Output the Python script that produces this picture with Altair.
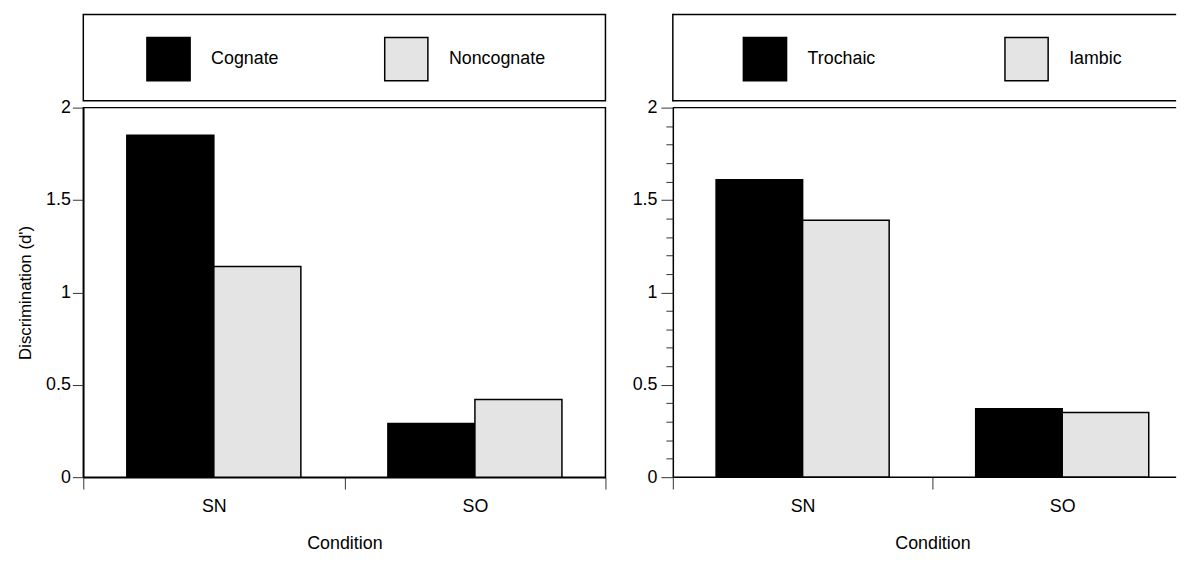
import altair as alt
import pandas as pd

# ---- data ----
conditions = ["SN", "SO"]

left_groups = ["Cognate", "Noncognate"]
left_cognate = [1.85, 0.29]
left_noncognate = [1.14, 0.42]

right_groups = ["Trochaic", "Iambic"]
right_trochaic = [1.61, 0.37]
right_iambic = [1.39, 0.35]

major_ticks = [0, 0.5, 1, 1.5, 2]
minor_ticks = [0, 0.1, 0.2, 0.3, 0.4, 0.5, 0.6, 0.7, 0.8, 0.9, 1,
               1.1, 1.2, 1.3, 1.4, 1.5, 1.6, 1.7, 1.8, 1.9, 2]

bar_colors = ["#000000", "#e4e4e4"]
FONT = "Liberation Sans"
LW = 1.5


def make_df(groups, first, second):
    rows = []
    for g, vals in zip(groups, [first, second]):
        for c, v in zip(conditions, vals):
            rows.append({"Condition": c, "Group": g, "Value": v})
    return pd.DataFrame(rows)


def bars(df, groups, x_scale, x_axis, y_axis, legend_x, col_pad):
    return alt.Chart(df).mark_bar(stroke="black", strokeWidth=LW).encode(
        x=alt.X("Condition:N", sort=conditions, scale=x_scale, axis=x_axis),
        xOffset=alt.XOffset("Group:N", sort=groups,
                            scale=alt.Scale(paddingInner=0, paddingOuter=0.5)),
        y=alt.Y("Value:Q", scale=alt.Scale(domain=[0, 2], nice=False), axis=y_axis),
        color=alt.Color("Group:N", sort=groups,
                        scale=alt.Scale(domain=groups, range=bar_colors),
                        legend=alt.Legend(orient="none", legendX=legend_x, legendY=-72,
                                          direction="horizontal", title=None,
                                          symbolType="square", symbolSize=1900,
                                          symbolStrokeColor="black", symbolStrokeWidth=LW,
                                          labelFontSize=18, labelOffset=20,
                                          columnPadding=col_pad, padding=0)),
    )


left_y_axis = alt.Axis(values=major_ticks, format="~g", tickSize=11, labelPadding=2,
                       title="Discrimination (d')", titleFontSize=17, titlePadding=11,
                       grid=False)
right_y_axis = alt.Axis(values=minor_ticks, format="~g",
                        labelExpr="datum.value % 0.5 === 0 ? datum.label : ''",
                        tickSize={"condition": {"test": "datum.value % 0.5 === 0", "value": 12},
                                  "value": 7},
                        labelPadding=4, title=None, grid=False, labelOverlap=False)

left_x_axis = alt.Axis(title="Condition", labelAngle=0, tickBand="extent",
                       tickSize=12, labelPadding=9, titlePadding=19)
# the right panel runs past the page edge: its scale is wider than the visible view
right_x_axis = alt.Axis(title="Condition", labelAngle=0, domain=False,
                        tickOffset=-131, labelOffset=131,
                        tickSize=12, labelPadding=9, titlePadding=19)

# left column: framed views
left_box = alt.Chart(pd.DataFrame({"v": [0.5]})).mark_point(size=0, opacity=0).encode(
    x=alt.X("v:Q", axis=None, scale=alt.Scale(domain=[0, 1])),
    y=alt.Y("v:Q", axis=None, scale=alt.Scale(domain=[0, 1])),
).properties(width=527, height=87)

left_plot = bars(make_df(left_groups, left_cognate, left_noncognate), left_groups,
                 alt.Scale(paddingInner=0, paddingOuter=0), left_x_axis, left_y_axis,
                 63, 103).properties(width=527, height=373)

# right column: no right-hand border (it is cut by the page edge)
RIGHT_W = 508
edge = alt.Chart(pd.DataFrame({"v": [0]}))
box_scale = alt.Scale(domain=[0, 1])
right_box = alt.layer(
    edge.mark_rule(color="black", strokeWidth=LW).encode(
        y=alt.YDatum(0, scale=box_scale, axis=None)),
    edge.mark_rule(color="black", strokeWidth=LW).encode(
        y=alt.YDatum(1, scale=box_scale, axis=None)),
    edge.mark_rule(color="black", strokeWidth=LW, strokeCap="square").encode(
        x=alt.XDatum(0, scale=box_scale, axis=None)),
).properties(width=RIGHT_W, height=87, view=alt.ViewBackground(stroke="transparent"))

right_plot = alt.layer(
    bars(make_df(right_groups, right_trochaic, right_iambic), right_groups,
         alt.Scale(paddingInner=0, paddingOuter=0, range=[0, 524]),
         right_x_axis, right_y_axis, 70, 127),
    edge.mark_rule(color="black", strokeWidth=LW).encode(y=alt.YDatum(2, axis=right_y_axis)),
    edge.mark_rule(color="black", strokeWidth=LW).encode(y=alt.YDatum(0, axis=right_y_axis)),
).properties(width=RIGHT_W, height=373, view=alt.ViewBackground(stroke="transparent"))

chart = alt.concat(left_box, right_box, left_plot, right_plot, columns=2).properties(
    bounds="flush",
    spacing={"row": 7, "column": 68},
    padding={"left": 8, "top": 2, "right": 0, "bottom": 0},
).resolve_scale(
    color="independent", xOffset="independent"
).configure_view(
    stroke="black", strokeWidth=LW
).configure_axis(
    labelFont=FONT, titleFont=FONT, labelFontSize=18, titleFontSize=18,
    titleFontWeight="normal", labelColor="black", titleColor="black",
    domainColor="black", domainWidth=LW, tickColor="#333333", tickWidth=1
).configure_legend(
    labelFont=FONT, labelColor="black"
)

chart.save("out.html", embed_options={"renderer": "svg", "actions": False})
